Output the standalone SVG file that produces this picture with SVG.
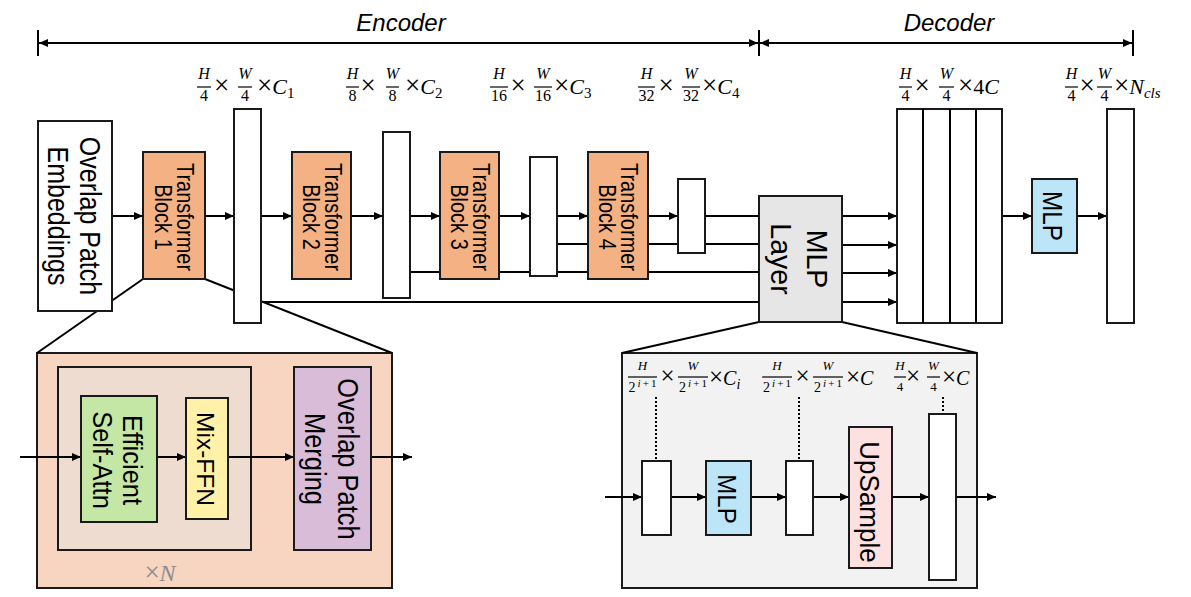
<svg xmlns="http://www.w3.org/2000/svg" width="1191" height="597" viewBox="0 0 1191 597">
<defs>
<marker id="ah" markerUnits="userSpaceOnUse" markerWidth="9" markerHeight="8" refX="9" refY="4" orient="auto">
<path d="M0,0 L9,4 L0,8 z" fill="#000"/>
</marker>
<marker id="ahs" markerUnits="userSpaceOnUse" markerWidth="9" markerHeight="8" refX="0" refY="4" orient="auto">
<path d="M9,0 L0,4 L9,8 z" fill="#000"/>
</marker>
<style>
.bx{stroke:#1a1a1a;stroke-width:2}
.ln{stroke:#000;stroke-width:2;fill:none}
.ar{stroke:#000;stroke-width:2;fill:none;marker-end:url(#ah)}
.dot{stroke:#000;stroke-width:2;fill:none;stroke-dasharray:2,2}
.t{font-family:"Liberation Sans",Arial,sans-serif;fill:#000;text-anchor:middle}
.ti{font-family:"Liberation Sans",Arial,sans-serif;font-style:italic;fill:#000;text-anchor:middle;font-size:24px}
.mi{font-family:"Liberation Serif","Times New Roman",serif;font-style:italic;fill:#000}
.mn{font-family:"Liberation Serif","Times New Roman",serif;fill:#000}
.fb{stroke:#000;stroke-width:1.2}
.c{text-anchor:middle}
</style>
</defs>

<!-- panels (zoom-in backgrounds) -->
<g id="panel-transformer-block">
<rect class="bx" x="37" y="353" width="355" height="235" fill="#f8d5c0"/>
<rect class="bx" x="58" y="367" width="193" height="183" fill="#efdcd0"/>
<text x="160" y="581" style="font-family:'Liberation Serif',serif;font-size:24px;fill:#8c8c8c;text-anchor:middle"><tspan font-size="27">×</tspan><tspan font-style="italic">N</tspan></text>
</g>
<g id="panel-mlp-layer">
<rect class="bx" x="622" y="353" width="355" height="235" fill="#f2f2f2"/>
</g>

<!-- connectors -->
<g id="connectors">
<line class="ln" x1="38" y1="30" x2="38" y2="56"/>
<line class="ln" x1="759" y1="30" x2="759" y2="56"/>
<line class="ln" x1="1133" y1="30" x2="1133" y2="56"/>
<line class="ln" x1="39" y1="43" x2="758" y2="43" style="marker-start:url(#ahs);marker-end:url(#ah)"/>
<line class="ln" x1="760" y1="43" x2="1132" y2="43" style="marker-start:url(#ahs);marker-end:url(#ah)"/>
<line class="ln" x1="143" y1="279" x2="37" y2="353"/>
<line class="ln" x1="205" y1="279" x2="392" y2="353"/>
<line class="ln" x1="759" y1="322" x2="622" y2="353"/>
<line class="ln" x1="842" y1="322" x2="977" y2="353"/>
<line class="ar" x1="112" y1="216" x2="143" y2="216"/>
<line class="ar" x1="205" y1="216" x2="234" y2="216"/>
<line class="ar" x1="261" y1="216" x2="292" y2="216"/>
<line class="ar" x1="351" y1="216" x2="383" y2="216"/>
<line class="ar" x1="410" y1="216" x2="440" y2="216"/>
<line class="ar" x1="499" y1="216" x2="530" y2="216"/>
<line class="ar" x1="557" y1="216" x2="588" y2="216"/>
<line class="ar" x1="648" y1="216" x2="678" y2="216"/>
<line class="ln" x1="705" y1="216" x2="759" y2="216"/>
<line class="ln" x1="557" y1="244" x2="759" y2="244"/>
<line class="ln" x1="410" y1="272" x2="759" y2="272"/>
<line class="ln" x1="261" y1="302" x2="759" y2="302"/>
<line class="ar" x1="842" y1="216" x2="897" y2="216"/>
<line class="ar" x1="842" y1="245" x2="897" y2="245"/>
<line class="ar" x1="842" y1="273" x2="897" y2="273"/>
<line class="ar" x1="842" y1="302" x2="897" y2="302"/>
<line class="ar" x1="1002" y1="216" x2="1032" y2="216"/>
<line class="ar" x1="1077" y1="216" x2="1107" y2="216"/>
<line class="ar" x1="20" y1="457" x2="81" y2="457"/>
<line class="ar" x1="157" y1="457" x2="186" y2="457"/>
<line class="ar" x1="228" y1="457" x2="294" y2="457"/>
<line class="ar" x1="371" y1="457" x2="412" y2="457"/>
<line class="ar" x1="605" y1="497" x2="642" y2="497"/>
<line class="ar" x1="671" y1="497" x2="706" y2="497"/>
<line class="ar" x1="751" y1="497" x2="786" y2="497"/>
<line class="ar" x1="813" y1="497" x2="849" y2="497"/>
<line class="ar" x1="892" y1="497" x2="929" y2="497"/>
<line class="ar" x1="956" y1="497" x2="996" y2="497"/>
<line class="dot" x1="656" y1="397" x2="656" y2="461"/>
<line class="dot" x1="799" y1="397" x2="799" y2="461"/>
<line class="dot" x1="943" y1="397" x2="943" y2="414"/>
</g>

<g id="headings">
<text class="ti" x="401" y="31">Encoder</text>
<text class="ti" x="949" y="31">Decoder</text>
</g>

<g id="overlap-patch-embeddings">
<rect class="bx" x="38" y="121" width="74" height="190" fill="#fff"/>
<text class="t" style="font-size:25px" transform="translate(75,216) rotate(90) scale(1,1.2)"><tspan x="0" y="-4.2">Overlap Patch</tspan><tspan x="0" y="22.5">Embeddings</tspan></text>
</g>
<g id="transformer-block-1">
<rect class="bx" x="143" y="152" width="62" height="127" fill="#f4b183"/>
<text class="t" style="font-size:20px" transform="translate(174,217) rotate(90) scale(1,1.17)"><tspan x="0" y="-2.6">Transformer</tspan><tspan x="0" y="16.2">Block 1</tspan></text>
</g>
<g id="feature-1"><rect class="bx" x="234" y="109" width="27" height="214" fill="#fff"/></g>
<g id="transformer-block-2">
<rect class="bx" x="292" y="152" width="59" height="127" fill="#f4b183"/>
<text class="t" style="font-size:20px" transform="translate(321.5,217) rotate(90) scale(1,1.17)"><tspan x="0" y="-2.6">Transformer</tspan><tspan x="0" y="16.2">Block 2</tspan></text>
</g>
<g id="feature-2"><rect class="bx" x="383" y="132" width="27" height="166" fill="#fff"/></g>
<g id="transformer-block-3">
<rect class="bx" x="440" y="152" width="59" height="127" fill="#f4b183"/>
<text class="t" style="font-size:20px" transform="translate(469.5,217) rotate(90) scale(1,1.17)"><tspan x="0" y="-2.6">Transformer</tspan><tspan x="0" y="16.2">Block 3</tspan></text>
</g>
<g id="feature-3"><rect class="bx" x="530" y="157" width="27" height="119" fill="#fff"/></g>
<g id="transformer-block-4">
<rect class="bx" x="588" y="152" width="60" height="127" fill="#f4b183"/>
<text class="t" style="font-size:20px" transform="translate(618,217) rotate(90) scale(1,1.17)"><tspan x="0" y="-2.6">Transformer</tspan><tspan x="0" y="16.2">Block 4</tspan></text>
</g>
<g id="feature-4"><rect class="bx" x="678" y="179" width="27" height="74" fill="#fff"/></g>

<g id="mlp-layer">
<rect class="bx" x="759" y="196" width="83" height="126" fill="#e7e6e6"/>
<text class="t" style="font-size:28.5px" transform="translate(800.5,259) rotate(90) scale(1,1.06)"><tspan x="0" y="-5.7">MLP</tspan><tspan x="0" y="27.4">Layer</tspan></text>
</g>
<g id="concat-features">
<rect class="bx" x="897" y="109" width="105" height="214" fill="#fff"/>
<line class="ln" x1="923" y1="109" x2="923" y2="323"/>
<line class="ln" x1="950" y1="109" x2="950" y2="323"/>
<line class="ln" x1="976" y1="109" x2="976" y2="323"/>
</g>
<g id="decoder-mlp">
<rect class="bx" x="1032" y="179" width="45" height="74" fill="#bde5f8"/>
<text class="t" style="font-size:24.3px" transform="translate(1054.5,216) rotate(90) scale(1,1.15)"><tspan x="0" y="10">MLP</tspan></text>
</g>
<g id="output-mask"><rect class="bx" x="1107" y="109" width="27" height="214" fill="#fff"/></g>

<g id="efficient-self-attn">
<rect class="bx" x="81" y="396" width="76" height="126" fill="#c5e7a6"/>
<text class="t" style="font-size:25.5px" transform="translate(119,460) rotate(90) scale(1,1.08)"><tspan x="0" y="-3.7">Efficient</tspan><tspan x="0" y="24">Self-Attn</tspan></text>
</g>
<g id="mix-ffn">
<rect class="bx" x="186" y="398" width="42" height="121" fill="#fff2a8"/>
<text class="t" style="font-size:24.5px" transform="translate(207,459) rotate(90)"><tspan x="0" y="10">Mix-FFN</tspan></text>
</g>
<g id="overlap-patch-merging">
<rect class="bx" x="294" y="367" width="77" height="183" fill="#d8bcd8"/>
<text class="t" style="font-size:25.5px" transform="translate(332.5,459) rotate(90) scale(1,1.19)"><tspan x="0" y="-4.6">Overlap Patch</tspan><tspan x="0" y="23.1">Merging</tspan></text>
</g>

<g id="input-feature"><rect class="bx" x="642" y="461" width="29" height="74" fill="#fff"/></g>
<g id="detail-mlp">
<rect class="bx" x="706" y="461" width="45" height="74" fill="#bde5f8"/>
<text class="t" style="font-size:24px" transform="translate(728.5,499) rotate(90) scale(1,1.05)"><tspan x="0" y="10">MLP</tspan></text>
</g>
<g id="projected-feature"><rect class="bx" x="786" y="461" width="27" height="74" fill="#fff"/></g>
<g id="upsample">
<rect class="bx" x="849" y="427" width="43" height="141" fill="#fde0e0"/>
<text class="t" style="font-size:26px" transform="translate(870.5,502) rotate(90) scale(1,1.07)"><tspan x="0" y="9.8">UpSample</tspan></text>
</g>
<g id="upsampled-feature"><rect class="bx" x="929" y="414" width="27" height="166" fill="#fff"/></g>

<g id="dim-labels">
<!-- label 1 -->
<text class="mi c" x="204" y="79" font-size="16">H</text><line class="fb" x1="197" y1="87" x2="211" y2="87"/><text class="mn c" x="204" y="101" font-size="16">4</text>
<text class="mn c" x="221.5" y="94" font-size="27">×</text>
<text class="mi c" x="245" y="79" font-size="16">W</text><line class="fb" x1="238" y1="87" x2="252" y2="87"/><text class="mn c" x="245" y="101" font-size="16">4</text>
<text class="mn" x="257" y="94" font-size="22"><tspan font-size="27">×</tspan><tspan font-style="italic">C</tspan><tspan font-size="15" dy="4">1</tspan></text>
<!-- label 2 -->
<text class="mi c" x="352.5" y="79" font-size="16">H</text><line class="fb" x1="346" y1="87" x2="359" y2="87"/><text class="mn c" x="352.5" y="101" font-size="16">8</text>
<text class="mn c" x="368" y="94" font-size="27">×</text>
<text class="mi c" x="392.5" y="79" font-size="16">W</text><line class="fb" x1="386" y1="87" x2="399" y2="87"/><text class="mn c" x="392.5" y="101" font-size="16">8</text>
<text class="mn" x="405" y="94" font-size="22"><tspan font-size="27">×</tspan><tspan font-style="italic">C</tspan><tspan font-size="15" dy="4">2</tspan></text>
<!-- label 3 -->
<text class="mi c" x="499" y="79" font-size="16">H</text><line class="fb" x1="490" y1="87" x2="508" y2="87"/><text class="mn c" x="499" y="101" font-size="16">16</text>
<text class="mn c" x="518" y="94" font-size="27">×</text>
<text class="mi c" x="543" y="79" font-size="16">W</text><line class="fb" x1="534" y1="87" x2="552" y2="87"/><text class="mn c" x="543" y="101" font-size="16">16</text>
<text class="mn" x="554" y="94" font-size="22"><tspan font-size="27">×</tspan><tspan font-style="italic">C</tspan><tspan font-size="15" dy="4">3</tspan></text>
<!-- label 4 -->
<text class="mi c" x="646.5" y="79" font-size="16">H</text><line class="fb" x1="638" y1="87" x2="655" y2="87"/><text class="mn c" x="646.5" y="101" font-size="16">32</text>
<text class="mn c" x="666" y="94" font-size="27">×</text>
<text class="mi c" x="691" y="79" font-size="16">W</text><line class="fb" x1="682" y1="87" x2="700" y2="87"/><text class="mn c" x="691" y="101" font-size="16">32</text>
<text class="mn" x="702" y="94" font-size="22"><tspan font-size="27">×</tspan><tspan font-style="italic">C</tspan><tspan font-size="15" dy="4">4</tspan></text>
<!-- label 5 -->
<text class="mi c" x="905.5" y="79" font-size="16">H</text><line class="fb" x1="899" y1="87" x2="912" y2="87"/><text class="mn c" x="905.5" y="101" font-size="16">4</text>
<text class="mn c" x="922" y="94" font-size="27">×</text>
<text class="mi c" x="946.5" y="79" font-size="16">W</text><line class="fb" x1="939" y1="87" x2="954" y2="87"/><text class="mn c" x="946.5" y="101" font-size="16">4</text>
<text class="mn" x="958" y="94" font-size="22"><tspan font-size="27">×</tspan>4<tspan font-style="italic">C</tspan></text>
<!-- label 6 -->
<text class="mi c" x="1071.5" y="79" font-size="16">H</text><line class="fb" x1="1065" y1="87" x2="1078" y2="87"/><text class="mn c" x="1071.5" y="101" font-size="16">4</text>
<text class="mn c" x="1087" y="94" font-size="27">×</text>
<text class="mi c" x="1104.5" y="79" font-size="16">W</text><line class="fb" x1="1097" y1="87" x2="1112" y2="87"/><text class="mn c" x="1104.5" y="101" font-size="16">4</text>
<text class="mn" x="1114" y="94" font-size="22"><tspan font-size="27">×</tspan><tspan font-style="italic">N</tspan><tspan font-style="italic" font-size="15" dy="4">cls</tspan></text>

<!-- detail label a -->
<text class="mi c" x="642.5" y="370" font-size="13">H</text><line class="fb" x1="628" y1="377" x2="657" y2="377"/>
<text class="mn c" x="642.5" y="392" font-size="14" textLength="28" lengthAdjust="spacing">2<tspan font-style="italic" font-size="11" dy="-5">i</tspan><tspan font-size="11">+1</tspan></text>
<text class="mn c" x="667.5" y="384" font-size="25">×</text>
<text class="mi c" x="693" y="370" font-size="13">W</text><line class="fb" x1="678" y1="377" x2="708" y2="377"/>
<text class="mn c" x="693" y="392" font-size="14" textLength="28" lengthAdjust="spacing">2<tspan font-style="italic" font-size="11" dy="-5">i</tspan><tspan font-size="11">+1</tspan></text>
<text class="mn" x="709" y="385" font-size="20"><tspan font-size="25">×</tspan><tspan font-style="italic">C</tspan><tspan font-style="italic" font-size="14" dy="4">i</tspan></text>
<!-- detail label b -->
<text class="mi c" x="777" y="370" font-size="13">H</text><line class="fb" x1="762" y1="377" x2="792" y2="377"/>
<text class="mn c" x="777" y="392" font-size="14" textLength="28" lengthAdjust="spacing">2<tspan font-style="italic" font-size="11" dy="-5">i</tspan><tspan font-size="11">+1</tspan></text>
<text class="mn c" x="802.5" y="384" font-size="25">×</text>
<text class="mi c" x="828" y="370" font-size="13">W</text><line class="fb" x1="813" y1="377" x2="843" y2="377"/>
<text class="mn c" x="828" y="392" font-size="14" textLength="28" lengthAdjust="spacing">2<tspan font-style="italic" font-size="11" dy="-5">i</tspan><tspan font-size="11">+1</tspan></text>
<text class="mn" x="846" y="385" font-size="20"><tspan font-size="25">×</tspan><tspan font-style="italic">C</tspan></text>
<!-- detail label c -->
<text class="mi c" x="900" y="370" font-size="13">H</text><line class="fb" x1="894" y1="377" x2="906" y2="377"/><text class="mn c" x="900" y="391" font-size="13">4</text>
<text class="mn c" x="913" y="384" font-size="25">×</text>
<text class="mi c" x="933.5" y="370" font-size="13">W</text><line class="fb" x1="927" y1="377" x2="940" y2="377"/><text class="mn c" x="933.5" y="391" font-size="13">4</text>
<text class="mn" x="942" y="385" font-size="20"><tspan font-size="25">×</tspan><tspan font-style="italic">C</tspan></text>
</g>
</svg>
